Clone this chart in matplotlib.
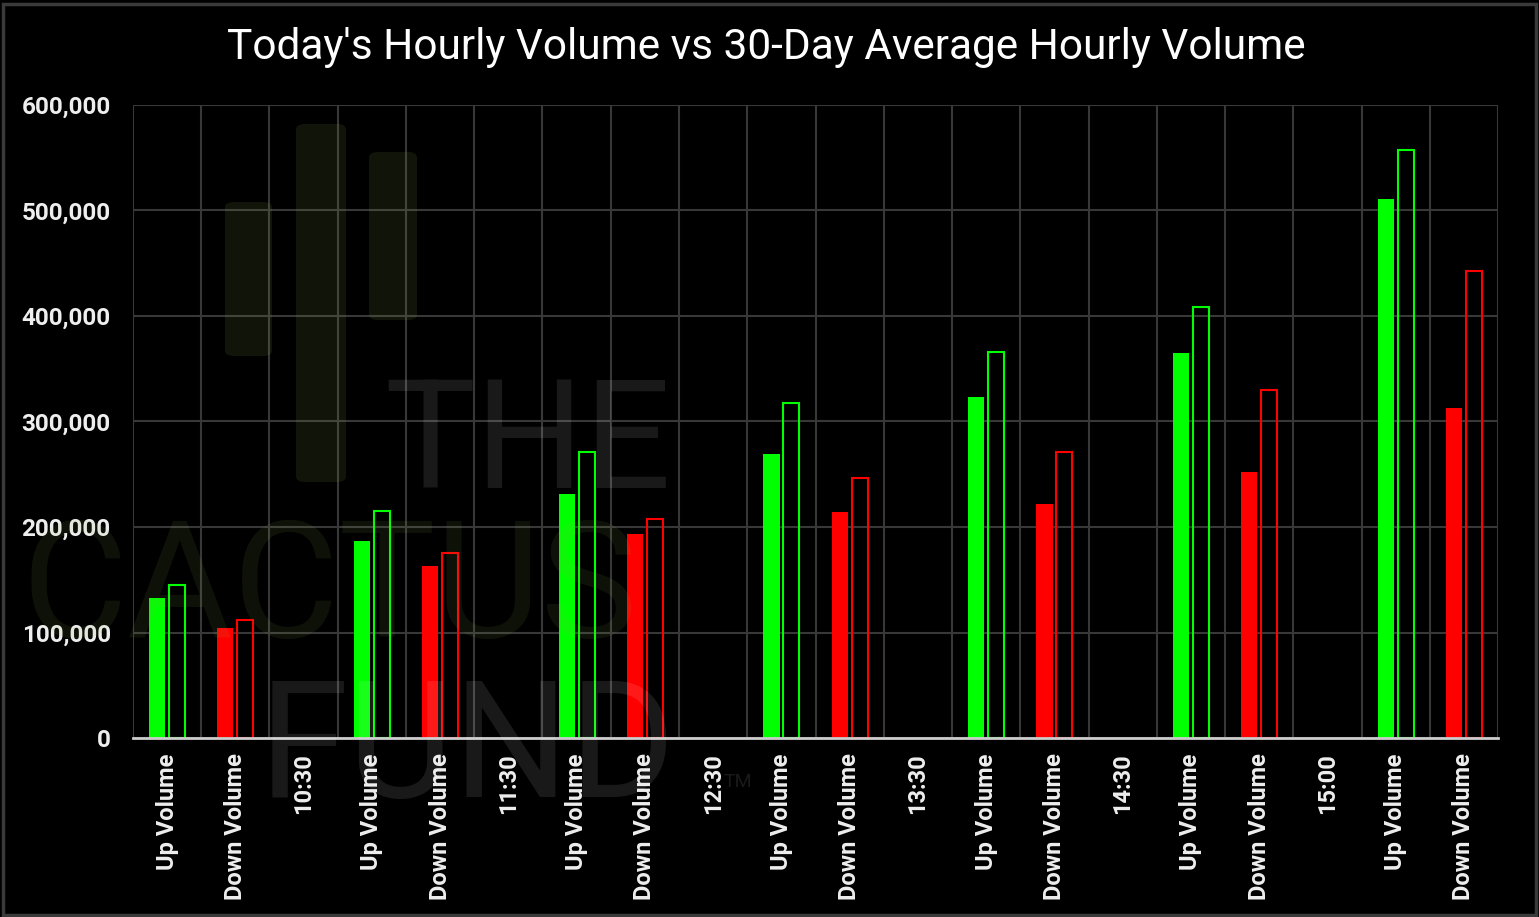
import numpy as np
import matplotlib
matplotlib.use('Agg')
from matplotlib import pyplot as plt
from matplotlib.patches import FancyBboxPatch, Rectangle
from matplotlib.ticker import FuncFormatter, MultipleLocator

# chart data
categories = ['Up Volume', 'Down Volume', '10:30',
              'Up Volume', 'Down Volume', '11:30',
              'Up Volume', 'Down Volume', '12:30',
              'Up Volume', 'Down Volume', '13:30',
              'Up Volume', 'Down Volume', '14:30',
              'Up Volume', 'Down Volume', '15:00',
              'Up Volume', 'Down Volume']

up_today = [133000, 187000, 231000, 269000, 323000, 365000, 511000]
up_avg = [145000, 215000, 271000, 318000, 366000, 409000, 557000]
down_today = [104000, 163000, 193000, 214000, 222000, 252000, 313000]
down_avg = [112000, 175000, 208000, 246000, 271000, 330000, 443000]

GREEN = '#00ff00'
RED = '#ff0000'

plt.rcParams['font.family'] = ['Roboto', 'DejaVu Sans']

fig = plt.figure(figsize=(15.39, 9.17), dpi=100, facecolor='black')
ax = fig.add_axes([0.0864, 0.1952, 0.887, 0.6903])
ax.set_facecolor('black')

# figure frame
fig.patches.append(Rectangle((0.002, 0.002), 0.996, 0.994, transform=fig.transFigure,
	facecolor='none', edgecolor='#3a3a3a', linewidth=2.5, zorder=1))

x = np.arange(len(categories))
up_pos = x[0::3]
down_pos = x[1::3]
bw = 0.235
off = 0.145

ax.bar(up_pos - off, up_today, width=bw, color=GREEN, zorder=3)
ax.bar(up_pos + off, up_avg, width=bw, facecolor='none', edgecolor=GREEN, linewidth=1.5, zorder=3)
ax.bar(down_pos - off, down_today, width=bw, color=RED, zorder=3)
ax.bar(down_pos + off, down_avg, width=bw, facecolor='none', edgecolor=RED, linewidth=1.5, zorder=3)

ax.set_xlim(-0.5, len(categories) - 0.5)
ax.set_ylim(0, 600000)
ax.yaxis.set_major_locator(MultipleLocator(100000))
ax.yaxis.set_major_formatter(FuncFormatter(lambda v, p: '{:,.0f}'.format(v)))
ax.set_xticks(x)
ax.set_xticklabels(categories, rotation=90, fontsize=17, fontweight='bold', color='#eeeeee')
ax.set_xticks(np.arange(-0.5, len(categories)), minor=True)
ax.tick_params(axis='x', which='both', length=0, pad=11)
ax.tick_params(axis='y', length=0, pad=16, labelsize=17.5, labelcolor='#eeeeee')
for lab in ax.get_yticklabels():
	lab.set_fontweight('bold')

ax.grid(axis='y', which='major', color='#383838', linewidth=1.5, zorder=0)
ax.grid(axis='x', which='minor', color='#383838', linewidth=1.5, zorder=0)
ax.grid(axis='x', which='major', visible=False)
for s in ['left', 'right', 'top']:
	ax.spines[s].set_visible(False)
ax.spines['bottom'].set_color('#cccccc')
ax.spines['bottom'].set_linewidth(2)
ax.spines['bottom'].set_zorder(4)

fig.text(0.498, 0.9487, "Today's Hourly Volume vs 30-Day Average Hourly Volume",
	color='white', fontsize=30.5, ha='center', va='center')

# watermark (logo + text), faint overlay on top of the chart
for (x0, y0, w, h) in [(225, 202, 47, 154), (296, 124, 50, 358), (369, 152, 48, 168)]:
	fig.patches.append(FancyBboxPatch((x0 / 1539, 1 - (y0 + h) / 917), w / 1539, h / 917,
		boxstyle='round,pad=0,rounding_size=0.006', transform=fig.transFigure,
		facecolor='#90b050', alpha=0.12, edgecolor='none', zorder=10))
fig.text(0.250, 0.4678, 'THE', color='white', alpha=0.1, fontsize=110,
	ha='left', va='baseline', zorder=10)
fig.text(0.014, 0.3053, 'CACTUS', color='#90b050', alpha=0.1, fontsize=117,
	ha='left', va='baseline', zorder=10)
fig.text(0.168, 0.1309, 'FUND', color='white', alpha=0.1, fontsize=117,
	ha='left', va='baseline', zorder=10)
fig.text(0.470, 0.1418, 'TM', color='white', alpha=0.1, fontsize=14,
	ha='left', va='baseline', zorder=10)

fig.savefig('out.png', dpi=100, facecolor='black')
